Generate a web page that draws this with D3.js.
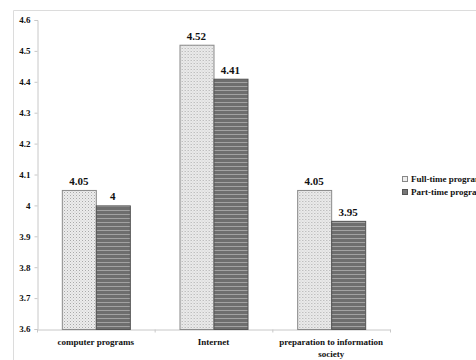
<!DOCTYPE html>
<html>
<head>
<meta charset="utf-8">
<script src="https://cdn.jsdelivr.net/npm/d3@7"></script>
<style>
  html, body { margin: 0; padding: 0; background: #fff; }
  svg { display: block; font-family: "Liberation Serif", "Times New Roman", serif; }
</style>
</head>
<body>
<svg id="chart" width="476" height="360"></svg>
<script>
// Mean ratings by programme type
const categories = ["computer programs", "Internet", "preparation to information society"];
const seriesNames = ["Full-time programs", "Part-time programs"];
const fullTime = [4.05, 4.52, 4.05];
const partTime = [4.00, 4.41, 3.95];
const yTicks = [3.6, 3.7, 3.8, 3.9, 4.0, 4.1, 4.2, 4.3, 4.4, 4.5, 4.6];

const svg = d3.select("#chart");
const defs = svg.append("defs");

// stippled fill for full-time bars
const dots = defs.append("pattern").attr("id", "dots")
  .attr("patternUnits", "userSpaceOnUse").attr("width", 3).attr("height", 3);
dots.append("rect").attr("width", 3).attr("height", 3).attr("fill", "#ececec");
dots.append("rect").attr("x", 0).attr("y", 0).attr("width", 1).attr("height", 1).attr("fill", "#a9a9a9");
dots.append("rect").attr("x", 1.5).attr("y", 1.5).attr("width", 1).attr("height", 1).attr("fill", "#c4c4c4");

// horizontal-line fill for part-time bars
const lines = defs.append("pattern").attr("id", "hlines")
  .attr("patternUnits", "userSpaceOnUse").attr("width", 4).attr("height", 4);
lines.append("rect").attr("width", 4).attr("height", 4).attr("fill", "#6e6e6e");
lines.append("rect").attr("y", 2).attr("width", 4).attr("height", 1).attr("fill", "#a2a2a2");

// outer frame
svg.append("path")
  .attr("d", "M13.5,360 V10.5 H476")
  .attr("fill", "none").attr("stroke", "#dcdcdc").attr("stroke-width", 1);

const plot = { left: 37, right: 390, top: 20, bottom: 329 };

const x = d3.scaleBand().domain(categories).range([plot.left, plot.right]).paddingInner(0).paddingOuter(0);
const xs = d3.scaleBand().domain(seriesNames).range([0, x.bandwidth()]).paddingInner(0).paddingOuter(0.73);
const y = d3.scaleLinear().domain([3.6, 4.6]).range([plot.bottom, plot.top]);

// y axis
const yAxis = svg.append("g").attr("transform", `translate(${plot.left + 0.5},0)`)
  .call(d3.axisLeft(y).tickValues(yTicks).tickSize(3).tickPadding(4).tickFormat(d3.format("~g")));
yAxis.select(".domain").attr("stroke", "#c8c8c8");
yAxis.selectAll(".tick line").attr("stroke", "#c8c8c8");
yAxis.selectAll(".tick text").attr("font-size", 9).attr("font-weight", "bold")
  .attr("font-family", "Liberation Serif, serif").attr("fill", "#111");

// x axis
const xAxis = svg.append("g").attr("transform", `translate(0,${plot.bottom + 0.5})`)
  .call(d3.axisBottom(x).tickSize(0).tickFormat(""));
xAxis.select(".domain").attr("stroke", "#c8c8c8");
const bounds = [plot.left, ...categories.map(c => x(c) + x.bandwidth())];
xAxis.selectAll(".sep").data(bounds).enter().append("line")
  .attr("x1", d => d + 0.5).attr("x2", d => d + 0.5).attr("y1", 0).attr("y2", 3)
  .attr("stroke", "#c8c8c8");

// category labels (wrapped)
const labelLines = {
  "computer programs": ["computer programs"],
  "Internet": ["Internet"],
  "preparation to information society": ["preparation to information", "society"]
};
categories.forEach(c => {
  const t = svg.append("text")
    .attr("x", x(c) + x.bandwidth() / 2).attr("y", 345)
    .attr("text-anchor", "middle").attr("font-size", 9).attr("font-weight", "bold").attr("fill", "#111");
  labelLines[c].forEach((ln, i) => {
    t.append("tspan").attr("x", x(c) + x.bandwidth() / 2).attr("dy", i === 0 ? 0 : 12).text(ln);
  });
});

// bars
const rows = categories.map((c, i) => ({ cat: c, vals: [fullTime[i], partTime[i]] }));
const fills = ["url(#dots)", "url(#hlines)"];
const strokes = ["#8a8a8a", "#555"];

const groups = svg.append("g").selectAll("g").data(rows).enter().append("g")
  .attr("transform", d => `translate(${x(d.cat)},0)`);

groups.selectAll("rect").data(d => d.vals.map((v, k) => ({ v, k }))).enter().append("rect")
  .attr("x", d => xs(seriesNames[d.k]) + 0.5)
  .attr("width", xs.bandwidth())
  .attr("y", d => y(d.v) + 0.5)
  .attr("height", d => y(3.6) - y(d.v))
  .attr("fill", d => fills[d.k])
  .attr("stroke", d => strokes[d.k]).attr("stroke-width", 1);

groups.selectAll("text").data(d => d.vals.map((v, k) => ({ v, k }))).enter().append("text")
  .attr("x", d => xs(seriesNames[d.k]) + xs.bandwidth() / 2)
  .attr("y", d => y(d.v) - 5)
  .attr("text-anchor", "middle").attr("font-size", 11).attr("font-weight", "bold").attr("fill", "#111")
  .text(d => d3.format("~g")(d.v));

// legend
const legend = svg.append("g").attr("transform", "translate(402,176)");
seriesNames.forEach((s, i) => {
  const g = legend.append("g").attr("transform", `translate(0,${i * 13})`);
  g.append("rect").attr("x", 0.5).attr("y", 0.5).attr("width", 5).attr("height", 5)
    .attr("fill", i === 0 ? "#eee" : "#777").attr("stroke", i === 0 ? "#888" : "#555");
  g.append("text").attr("x", 9).attr("y", 6).attr("font-size", 9).attr("font-weight", "bold")
    .attr("fill", "#111").text(s);
});
</script>
</body>
</html>
